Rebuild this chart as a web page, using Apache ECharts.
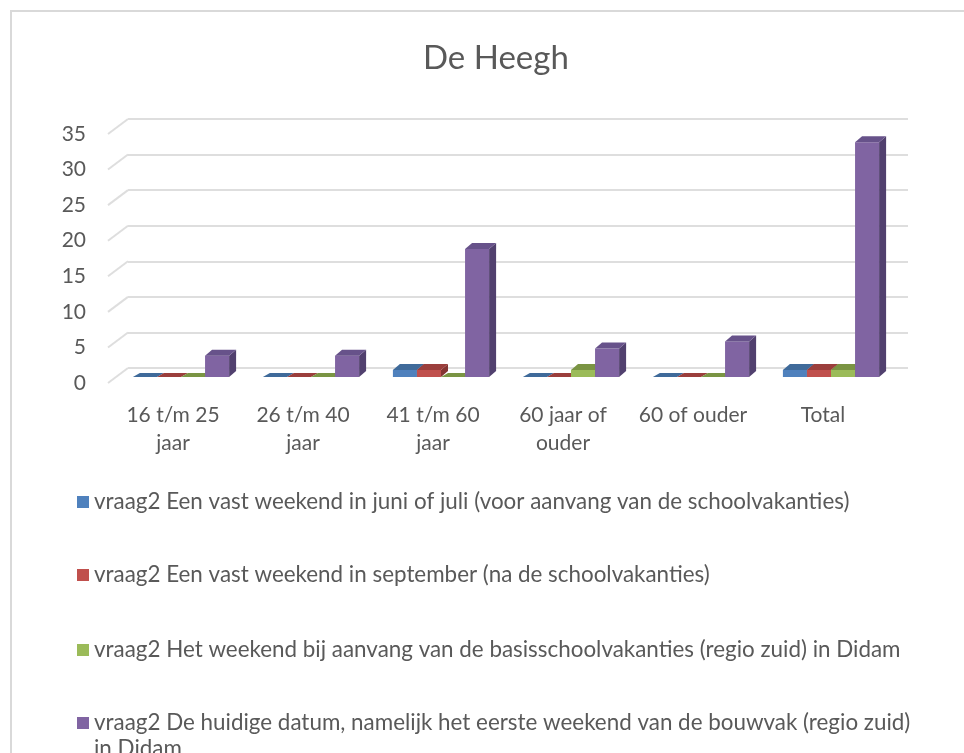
<!DOCTYPE html>
<html>
<head>
<meta charset="utf-8">
<title>De Heegh</title>
<script src="https://cdn.jsdelivr.net/npm/echarts@6/dist/echarts.min.js"></script>
<style>
html, body { margin: 0; padding: 0; background: #fff; }
#chart { width: 964px; height: 753px; }
</style>
</head>
<body>
<div id="chart"></div>
<script>
var categories = ['16 t/m 25\njaar', '26 t/m 40\njaar', '41 t/m 60\njaar', '60 jaar of\nouder', '60 of ouder', 'Total']
var seriesNames = [
  'vraag2 Een vast weekend in juni of juli (voor aanvang van de schoolvakanties)',
  'vraag2 Een vast weekend in september (na de schoolvakanties)',
  'vraag2 Het weekend bij aanvang van de basisschoolvakanties (regio zuid) in Didam',
  'vraag2 De huidige datum, namelijk het eerste weekend van de bouwvak (regio zuid) in Didam'
]
var juniJuli = [0, 0, 1, 0, 0, 1]
var september = [0, 0, 1, 0, 0, 1]
var basisschool = [0, 0, 0, 1, 0, 1]
var bouwvak = [3, 3, 18, 4, 5, 33]
var yTicks = [0, 5, 10, 15, 20, 25, 30, 35]

// front, top, side colours per series
var faces = [
  ['#4f81bd', '#3f6a9a', '#355a84'],
  ['#c0504d', '#9b3e3c', '#853432'],
  ['#9bbb59', '#7a9443', '#687f38'],
  ['#8064a2', '#67528a', '#51406e']
]
var values = [juniJuli, september, basisschool, bouwvak]

var chart = echarts.init(document.getElementById('chart'))

function barItem(k) {
  return function (params, api) {
    var cat = api.value(0)
    var val = api.value(1)
    var base = api.coord([cat, 0])
    var top = api.coord([cat, val])
    var band = api.size([1, 0])[0]
    var w = band * 0.185
    var x0 = base[0] - 2 * w + k * w + 8
    var yb = base[1] - 6
    var yt = top[1] - 6
    var dx = 7
    var dy = val > 0 ? -6 : -4
    var c = faces[k]
    var children = []
    if (val > 0) {
      children.push({ type: 'rect', shape: { x: x0, y: yt, width: w, height: yb - yt }, style: { fill: c[0] } })
      children.push({
        type: 'polygon',
        shape: { points: [[x0 + w, yt], [x0 + w + dx, yt + dy], [x0 + w + dx, yb + dy], [x0 + w, yb]] },
        style: { fill: c[2] }
      })
    }
    children.push({
      type: 'polygon',
      shape: { points: [[x0, yt], [x0 + dx, yt + dy], [x0 + w + dx, yt + dy], [x0 + w, yt]] },
      style: { fill: c[1] }
    })
    return { type: 'group', children: children }
  }
}

var series = values.map(function (arr, k) {
  return {
    name: seriesNames[k],
    type: 'custom',
    xAxisIndex: 1,
    yAxisIndex: 1,
    itemStyle: { color: faces[k][0] },
    renderItem: barItem(k),
    encode: { x: 0, y: 1 },
    data: arr.map(function (v, i) { return [i, v] }),
    z: 3
  }
})

// slanted side-wall gridlines
series.push({
  type: 'custom',
  silent: true,
  xAxisIndex: 1,
  yAxisIndex: 1,
  renderItem: function (params, api) {
    var p = api.coord([0, api.value(1)])
    var band = api.size([1, 0])[0]
    var left = p[0] - band / 2
    return {
      type: 'line',
      shape: { x1: left, y1: p[1], x2: left + 20, y2: p[1] - 15 },
      style: { stroke: '#dedede', lineWidth: 2 }
    }
  },
  encode: { x: 0, y: 1 },
  data: yTicks.map(function (t) { return [0, t] }),
  z: 1
})

var legendTops = [490, 563, 638, 710]
var legends = seriesNames.map(function (name, k) {
  var lg = {
    left: 77,
    top: legendTops[k],
    padding: 0,
    orient: 'vertical',
    icon: 'rect',
    itemWidth: 12,
    itemHeight: 12,
    data: [name],
    textStyle: { fontSize: 22.4, color: '#595959', lineHeight: 24, fontFamily: 'Lato' }
  }
  if (k === 3) {
    // two-line entry: keep the square level with the first line
    lg.icon = 'path://M0 0h0.01v0.01H0z M0 7h12v12H0z M0 51.99h0.01v0.01H0z'
    lg.itemHeight = 52
    lg.textStyle.lineHeight = 26
    lg.formatter = function (n) {
      return n.replace(' (regio zuid) in Didam', ' (regio zuid)\nin Didam')
    }
  }
  return lg
})

chart.setOption({
  animation: false,
  textStyle: { fontFamily: 'Lato' },
  title: {
    text: 'De Heegh',
    left: 423,
    top: 42,
    padding: 0,
    textStyle: { fontSize: 33, fontWeight: 'normal', color: '#595959', fontFamily: 'Lato' }
  },
  graphic: [{
    type: 'rect',
    silent: true,
    shape: { x: 11, y: 11, width: 1000, height: 800 },
    style: { fill: 'none', stroke: '#d9d9d9', lineWidth: 2 }
  }],
  legend: legends,
  grid: [
    { left: 128, right: 56, top: 119, bottom: 385 },
    { left: 108, right: 76, top: 134, bottom: 370 }
  ],
  xAxis: [
    { gridIndex: 0, type: 'category', data: categories, show: false },
    {
      gridIndex: 1,
      type: 'category',
      data: categories,
      axisLine: { show: false },
      axisTick: { show: false },
      axisLabel: { fontSize: 21, color: '#595959', lineHeight: 28, margin: 18, interval: 0 }
    }
  ],
  yAxis: [
    {
      gridIndex: 0,
      type: 'value',
      min: 0,
      max: 35,
      interval: 5,
      axisLabel: { show: false },
      axisLine: { show: false },
      axisTick: { show: false },
      splitLine: { lineStyle: { color: '#dedede', width: 2 } }
    },
    {
      gridIndex: 1,
      type: 'value',
      min: 0,
      max: 35,
      interval: 5,
      axisLine: { show: false },
      axisTick: { show: false },
      splitLine: { show: false },
      axisLabel: { fontSize: 21, color: '#595959', margin: 22 }
    }
  ],
  series: series
})
</script>
</body>
</html>
